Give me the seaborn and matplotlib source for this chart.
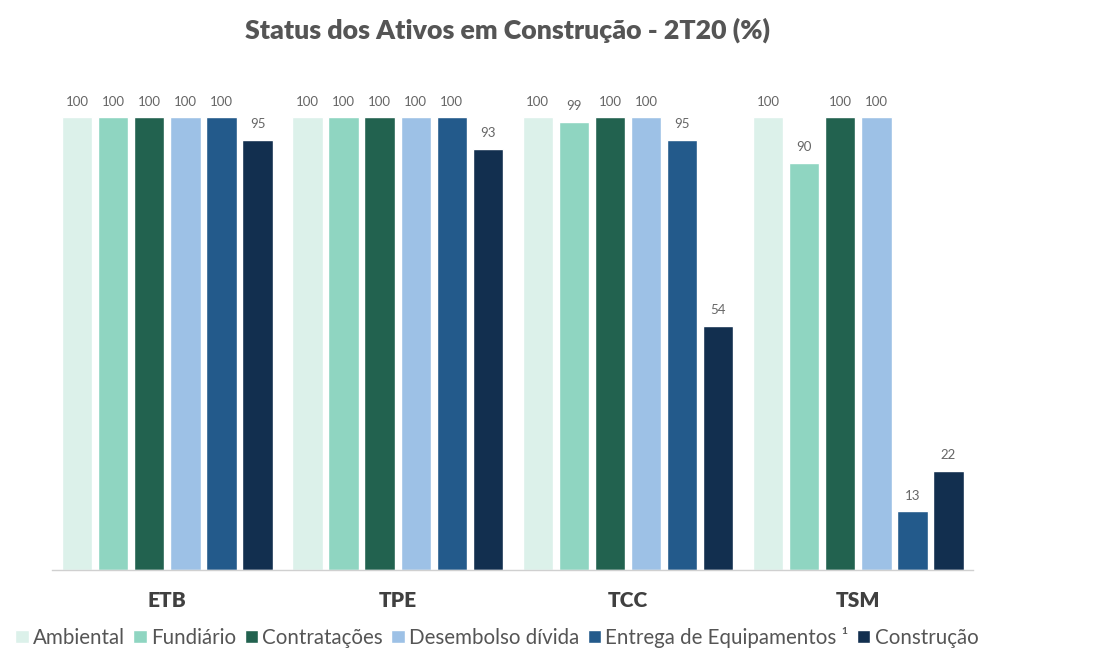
import pandas as pd
import matplotlib.pyplot as plt
import seaborn as sns

# Dados
ativos = ["ETB", "TPE", "TCC", "TSM"]
etapas = ["Ambiental", "Fundiário", "Contratações", "Desembolso dívida",
          "Entrega de Equipamentos ¹", "Construção"]
ambiental = [100, 100, 100, 100]
fundiario = [100, 100, 99, 90]
contratacoes = [100, 100, 100, 100]
desembolso = [100, 100, 100, 100]
entrega = [100, 100, 95, 13]
construcao = [95, 93, 54, 22]

cores = ["#DCF1EA", "#8FD5C1", "#22624F", "#9DC1E6", "#235A8B", "#122F4F"]

series = [ambiental, fundiario, contratacoes, desembolso, entrega, construcao]
df = pd.DataFrame({
    "ativo": [a for s in series for a in ativos],
    "etapa": [e for e, s in zip(etapas, series) for _ in s],
    "valor": [v for s in series for v in s],
})

sns.set_theme(style="white")
plt.rcParams["font.family"] = ["Lato", "DejaVu Sans"]

fig = plt.figure(figsize=(11.1, 6.48), dpi=100)
ax = fig.add_axes([0.047, 0.120, 0.830, 0.734])

sns.barplot(data=df, x="ativo", y="valor", hue="etapa", hue_order=etapas,
            order=ativos, palette=cores, width=0.94, gap=0.16,
            saturation=1, legend=True, ax=ax)

for cont in ax.containers:
    ax.bar_label(cont, fmt="%.0f", padding=7, fontsize=9.5, color="#666666")

ax.set_ylim(0, 105)
ax.set_xlim(-0.5, 3.5)
ax.set_yticks([])
ax.set_xlabel("")
ax.set_ylabel("")
for s in ["top", "right", "left"]:
    ax.spines[s].set_visible(False)
ax.spines["bottom"].set_color("#D0D0D0")
ax.spines["bottom"].set_linewidth(1)
ax.tick_params(axis="x", length=0, pad=15)
for lbl in ax.get_xticklabels():
    lbl.set_fontsize(15)
    lbl.set_fontweight("heavy")
    lbl.set_color("#404040")

handles, labels = ax.get_legend_handles_labels()
ax.get_legend().remove()
leg = fig.legend(handles, labels, loc="lower left", bbox_to_anchor=(-0.003, -0.028),
                 ncol=6, frameon=False, fontsize=14.8, handlelength=0.65,
                 handleheight=0.65, handletextpad=0.2, columnspacing=0.42)
for t in leg.get_texts():
    t.set_color("#555555")

fig.text(0.457, 0.953, "Status dos Ativos em Construção - 2T20 (%)",
         ha="center", va="center", fontsize=19.3, fontweight="heavy", color="#555555")

fig.savefig("out.png", dpi=100)
